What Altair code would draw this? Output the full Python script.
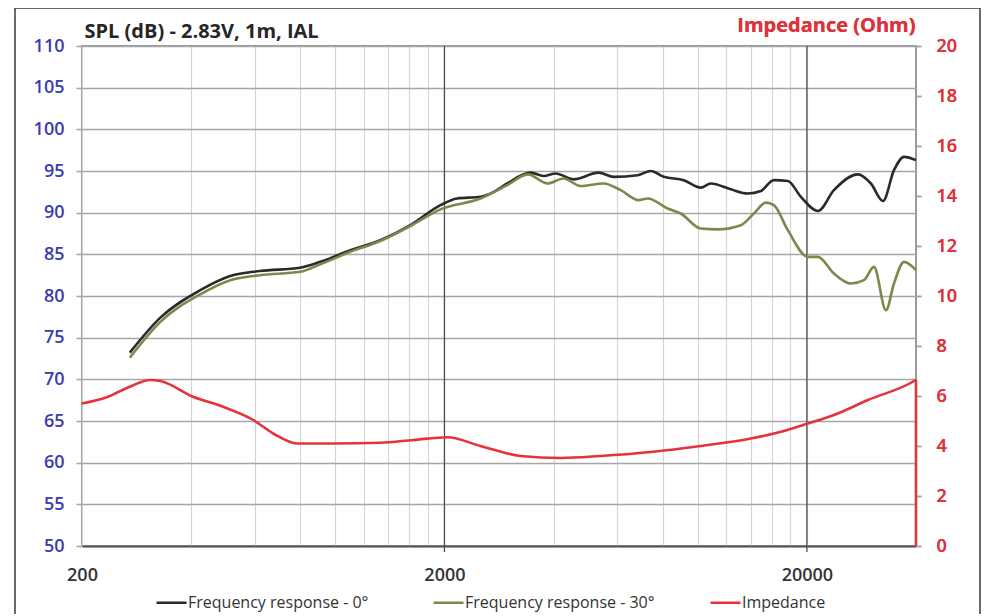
import altair as alt
import pandas as pd

# ---------------- data ----------------
series_names = ["Frequency response - 0°", "Frequency response - 30°", "Impedance"]
series_colors = ["#2a2a2a", "#7b8a4c", "#e6323c"]

freq_0 = [271, 329, 424, 513, 620, 800, 909, 1100, 1331, 1611, 1950, 2168, 2515, 2737,
          2980, 3458, 3754, 4053, 4545, 5327, 5862, 6827, 7416, 8055, 9148, 10190, 10860,
          12330, 13740, 14930, 16210, 17720, 19250, 21450, 23750, 27670, 30040, 32440,
          34780, 37070, 40000]
spl_0 = [73.2, 77.4, 80.7, 82.4, 83.0, 83.4, 84.1, 85.5, 86.7, 88.5, 90.9, 91.7, 91.9, 92.5,
         93.5, 94.8, 94.4, 94.7, 94.0, 94.8, 94.3, 94.5, 95.0, 94.3, 93.9, 93.0, 93.5,
         92.8, 92.3, 92.6, 93.9, 93.8, 91.9, 90.2, 92.7, 94.6, 93.5, 91.4,
         95.1, 96.7, 96.3]

freq_30 = [271, 329, 424, 513, 620, 800, 909, 1100, 1331, 1611, 1950, 2515, 2980, 3400,
           3850, 4264, 4751, 5498, 6128, 6870, 7275, 8260, 8974, 10190, 11350, 13140,
           14280, 15410, 16210, 17720, 20130, 21450, 23750, 26460, 28740, 30620, 33060,
           34780, 37070, 40000]
spl_30 = [72.6, 76.9, 80.2, 81.9, 82.5, 82.9, 83.8, 85.3, 86.6, 88.4, 90.4, 91.7, 93.3, 94.6,
          93.5, 94.1, 93.2, 93.5, 92.7, 91.5, 91.7, 90.5, 89.9, 88.1, 88.0, 88.5,
          89.9, 91.2, 90.9, 87.9, 84.7, 84.7, 82.7, 81.5, 81.9, 83.5, 78.3,
          81.5, 84.1, 83.1]

freq_imp = [200, 234, 271, 308, 329, 405, 490, 594, 674, 785, 987, 1331, 1642, 2038, 2515,
            3243, 4184, 5394, 7416, 10190, 14010, 17280, 20130, 23750, 29470, 39500, 40000]
imp = [5.7, 5.95, 6.37, 6.64, 6.6, 5.97, 5.57, 5.04, 4.5, 4.1, 4.1, 4.13, 4.24, 4.35, 4.0,
       3.6, 3.52, 3.6, 3.76, 4.0, 4.3, 4.6, 4.9, 5.24, 5.84, 6.6, 6.65]
# the impedance trace ends with a vertical drop to 0 Ohm at the last frequency
imp_drop_freq = [40000, 40000]
imp_drop = [6.65, 0.0]

x_minor_grid = [400, 600, 800, 1000, 1200, 1400, 1600, 1800,
                4000, 6000, 8000, 10000, 12000, 14000, 16000, 18000]
x_major_grid = [2000, 20000]
x_labels = [200, 2000, 20000]
spl_ticks = [50, 55, 60, 65, 70, 75, 80, 85, 90, 95, 100, 105, 110]
imp_ticks = [0, 2, 4, 6, 8, 10, 12, 14, 16, 18, 20]

FONT = "Open Sans"

# ---------------- tables ----------------
spl_df = pd.concat([
    pd.DataFrame({"series": series_names[0], "freq": freq_0, "value": spl_0,
                  "ord": range(len(freq_0))}),
    pd.DataFrame({"series": series_names[1], "freq": freq_30, "value": spl_30,
                  "ord": range(len(freq_30))}),
])
imp_df = pd.DataFrame({"series": series_names[2], "freq": freq_imp, "value": imp,
                       "ord": range(len(freq_imp))})
drop_df = pd.DataFrame({"series": series_names[2], "freq": imp_drop_freq, "value": imp_drop,
                        "ord": range(len(imp_drop))})
major_df = pd.DataFrame({"freq": x_major_grid})

xscale = alt.Scale(type="log", domain=[200, 40000], nice=False)
xaxis = alt.Axis(values=x_labels + x_minor_grid, format="d",
                 labelExpr="(datum.value == 200 || datum.value == 2000 || datum.value == 20000) ? datum.label : ''",
                 grid=True, gridColor="#d4d4d4", gridWidth=1.2,
                 ticks=False, domainColor="#555555", domainWidth=2,
                 labelFont=FONT, labelFontSize=18, labelFontWeight=600,
                 labelColor="#333333", labelPadding=20, labelFlush=False, title=None)
X = alt.X("freq:Q", scale=xscale, axis=xaxis, title=None)

color = alt.Color("series:N",
                  scale=alt.Scale(domain=series_names, range=series_colors),
                  legend=alt.Legend(title=None, orient="none", legendX=73, legendY=540,
                                    direction="horizontal", columns=3, gridAlign="all",
                                    columnPadding=50, symbolType="stroke",
                                    symbolSize=900, symbolStrokeWidth=2.5,
                                    labelFont=FONT, labelFontSize=16, labelColor="#333333",
                                    labelLimit=400, labelOffset=0))

spl_y = alt.Y("value:Q", scale=alt.Scale(domain=[50, 110], nice=False, zero=False),
              axis=alt.Axis(values=spl_ticks, orient="left", grid=True, gridColor="#a6a6a6",
                            gridWidth=1.5, tickColor="#a6a6a6", tickSize=6, tickWidth=1.5,
                            domain=False, labelFont=FONT, labelFontSize=18,
                            labelFontWeight=600, labelColor="#3b3bb0", labelPadding=12,
                            title="SPL (dB) - 2.83V, 1m, IAL", titleAngle=0,
                            titleAlign="left", titleBaseline="alphabetic",
                            titleX=2, titleY=-9, titleFont=FONT, titleFontSize=20,
                            titleFontWeight="bold", titleColor="#262626"))
imp_y = alt.Y("value:Q", scale=alt.Scale(domain=[0, 20], nice=False),
              axis=alt.Axis(values=imp_ticks, orient="right", grid=False,
                            tickColor="#a6a6a6", tickSize=5, tickWidth=1.5, domain=False,
                            labelFont=FONT, labelFontSize=18, labelFontWeight=600,
                            labelColor="#e0323c", labelPadding=15,
                            title="Impedance (Ohm)", titleAngle=0, titleAlign="right",
                            titleBaseline="alphabetic", titleX=-1, titleY=-15,
                            titleFont=FONT, titleFontSize=20, titleFontWeight="bold",
                            titleColor="#e0323c"))

# frame around the whole figure
frame = alt.Chart(pd.DataFrame({"a": [0]})).mark_rect(
    fill=None, stroke="#3a3a3a", strokeWidth=1.5, clip=False
).encode(x=alt.value(-67), x2=alt.value(898), y=alt.value(-38), y2=alt.value(580))

majors = alt.Chart(major_df).mark_rule(color="#4d4d4d", strokeWidth=1.3).encode(
    x=X, y=alt.value(0), y2=alt.value(506)
)

spl = alt.Chart(spl_df).mark_line(strokeWidth=2.6, interpolate="monotone").encode(
    x=X, y=spl_y, color=color, order="ord:Q",
)

impedance = alt.Chart(imp_df).mark_line(strokeWidth=2.6, interpolate="monotone").encode(
    x=X, y=imp_y, color=color, order="ord:Q",
)
impedance_drop = alt.Chart(drop_df).mark_line(strokeWidth=2.6).encode(
    x=X, y=imp_y, color=color, order="ord:Q",
)

chart = alt.layer(frame, majors, spl, impedance, impedance_drop).resolve_scale(
    y="independent", color="shared"
).properties(
    width=834, height=500,
    autosize=alt.AutoSizeParams(type="none"),
    padding={"left": 74, "top": 38, "right": 66, "bottom": 68},
    background="white",
).configure_view(stroke="#7a7a7a", strokeWidth=1.5)

chart.save("out.html", embed_options={"renderer": "svg", "actions": False})
